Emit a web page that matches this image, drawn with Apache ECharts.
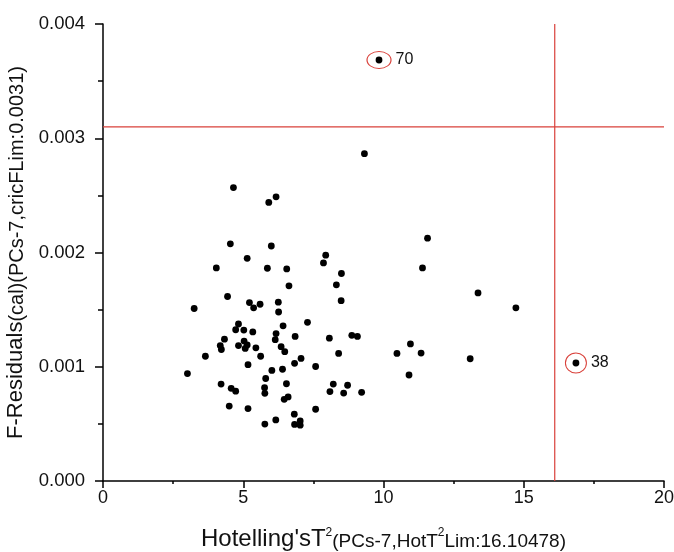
<!DOCTYPE html>
<html>
<head>
<meta charset="utf-8">
<script src="https://cdn.jsdelivr.net/npm/echarts@6/dist/echarts.min.js"></script>
<style>
html,body{margin:0;padding:0;background:#fff;}
#chart{width:674px;height:552px;}
</style>
</head>
<body>
<div id="chart"></div>
<script>
// Hotelling's T2 values (x) and F-residuals (y) of the samples
const hotT2 = [9.32,4.65,5.91,6.17,4.54,6.00,11.57,7.94,7.86,5.14,4.04,5.86,6.55,8.50,11.39,8.32,6.63,13.37,14.72,4.44,3.25,5.22,5.60,5.37,6.25,6.26,8.49,7.29,6.42,4.83,4.73,5.02,5.34,6.17,6.14,6.85,8.87,9.07,8.07,4.33,5.03,10.96,4.18,4.22,4.83,5.14,5.07,5.45,6.35,6.48,5.62,3.65,8.40,10.48,11.34,13.09,7.06,6.83,5.17,7.58,6.40,6.02,3.01,10.91,5.80,4.21,6.54,8.21,8.72,5.76,4.57,4.73,5.77,8.09,8.58,9.22,6.60,6.46,4.50,5.17,7.58,6.82,6.16,5.77,7.03,6.83,7.03];
const fResid = [0.002865,0.002568,0.002438,0.002487,0.002076,0.002057,0.002125,0.001977,0.001909,0.001949,0.001865,0.001862,0.001856,0.001816,0.001865,0.001717,0.001708,0.001646,0.001516,0.001615,0.001510,0.001562,0.001547,0.001516,0.001565,0.001479,0.001578,0.001389,0.001358,0.001374,0.001324,0.001321,0.001305,0.001290,0.001237,0.001265,0.001275,0.001265,0.001250,0.001241,0.001225,0.001200,0.001185,0.001151,0.001185,0.001191,0.001160,0.001166,0.001176,0.001132,0.001092,0.001092,0.001117,0.001117,0.001120,0.001070,0.001073,0.001030,0.001018,0.001002,0.000978,0.000968,0.000940,0.000928,0.000897,0.000848,0.000851,0.000848,0.000838,0.000817,0.000811,0.000786,0.000767,0.000783,0.000770,0.000776,0.000736,0.000715,0.000656,0.000634,0.000628,0.000585,0.000535,0.000498,0.000526,0.000495,0.000489];
// flagged outliers
const outlierNames = ['70','38'];
const outlierT2 = [9.84,16.86];
const outlierF = [0.003685,0.001033];
// limits
const hotT2Lim = 16.10478;
const fLim = 0.0031;
// axis ticks
const xTicks = {min:0,max:20,interval:5};
const yTicks = {min:0,max:0.004,interval:0.001};

const pts = hotT2.map((x,i)=>[x,fResid[i]]);
const outPts = outlierT2.map((x,i)=>[x,outlierF[i]]);
const ringSizes = [[24,17],[21,20]];

const chart = echarts.init(document.getElementById('chart'));
const FONT = 'Liberation Sans, Arial, sans-serif';
const RED = '#d9403a';
chart.setOption({
  animation:false,
  backgroundColor:'#fff',
  grid:{left:103,right:10,top:24,bottom:71,containLabel:false,outerBoundsMode:'none'},
  xAxis:{
    type:'value',min:xTicks.min,max:xTicks.max,interval:xTicks.interval,
    splitLine:{show:false},
    axisLine:{show:true,onZero:false,lineStyle:{color:'#000',width:1.5}},
    axisTick:{show:true,inside:false,length:7,lineStyle:{color:'#000',width:1.5}},
    minorTick:{show:true,splitNumber:2,length:3,lineStyle:{color:'#000',width:1.5}},
    axisLabel:{fontFamily:FONT,fontSize:18,color:'#111',margin:8},
    name:"{b|Hotelling'sT}{sup|2}{s|(PCs-7,HotT}{sup|2}{s|Lim:16.10478)}",
    nameLocation:'middle',nameGap:46,
    nameTextStyle:{
      fontFamily:FONT,color:'#111',
      rich:{
        b:{fontFamily:FONT,fontSize:24,color:'#111',verticalAlign:'bottom'},
        s:{fontFamily:FONT,fontSize:19,color:'#111',verticalAlign:'bottom'},
        sup:{fontFamily:FONT,fontSize:12,color:'#111',verticalAlign:'top'}
      }
    }
  },
  yAxis:{
    type:'value',min:yTicks.min,max:yTicks.max,interval:yTicks.interval,
    splitLine:{show:false},
    axisLine:{show:true,onZero:false,lineStyle:{color:'#000',width:1.5}},
    axisTick:{show:true,inside:false,length:8,lineStyle:{color:'#000',width:1.5}},
    minorTick:{show:true,splitNumber:2,length:5,lineStyle:{color:'#000',width:1.5}},
    axisLabel:{fontFamily:FONT,fontSize:18.5,color:'#111',margin:18,formatter:v=>v.toFixed(3)},
    name:'{b|F-Residuals}{s|(cal)(PCs-7,cricFLim:0.0031)}',
    nameLocation:'middle',nameRotate:90,nameGap:76,
    nameTextStyle:{
      fontFamily:FONT,color:'#111',
      rich:{
        b:{fontFamily:FONT,fontSize:22,color:'#111',verticalAlign:'bottom'},
        s:{fontFamily:FONT,fontSize:20,color:'#111',verticalAlign:'bottom'}
      }
    }
  },
  series:[
    {
      type:'line',data:[[xTicks.min,fLim],[xTicks.max,fLim]],
      symbol:'none',silent:true,lineStyle:{color:RED,width:1.2},z:1
    },
    {
      type:'line',data:[[hotT2Lim,yTicks.min],[hotT2Lim,yTicks.max]],
      symbol:'none',silent:true,lineStyle:{color:RED,width:1.2},z:1
    },
    {
      type:'scatter',data:pts,symbol:'circle',symbolSize:6.8,
      itemStyle:{color:'#000',opacity:1},silent:true,z:3
    },
    {
      type:'scatter',data:outPts,symbol:'circle',symbolSize:6.8,
      itemStyle:{color:'#000',opacity:1},z:4
    },
    {
      type:'scatter',
      data:outPts.map((p,i)=>({value:p,name:outlierNames[i],symbolSize:ringSizes[i]})),
      symbol:'circle',
      itemStyle:{color:'rgba(0,0,0,0)',borderColor:RED,borderWidth:1,opacity:1},
      label:{show:true,position:'right',distance:4,formatter:p=>p.name,
        fontFamily:FONT,fontSize:16,color:'#111'},
      z:5
    }
  ]
});
</script>
</body>
</html>
